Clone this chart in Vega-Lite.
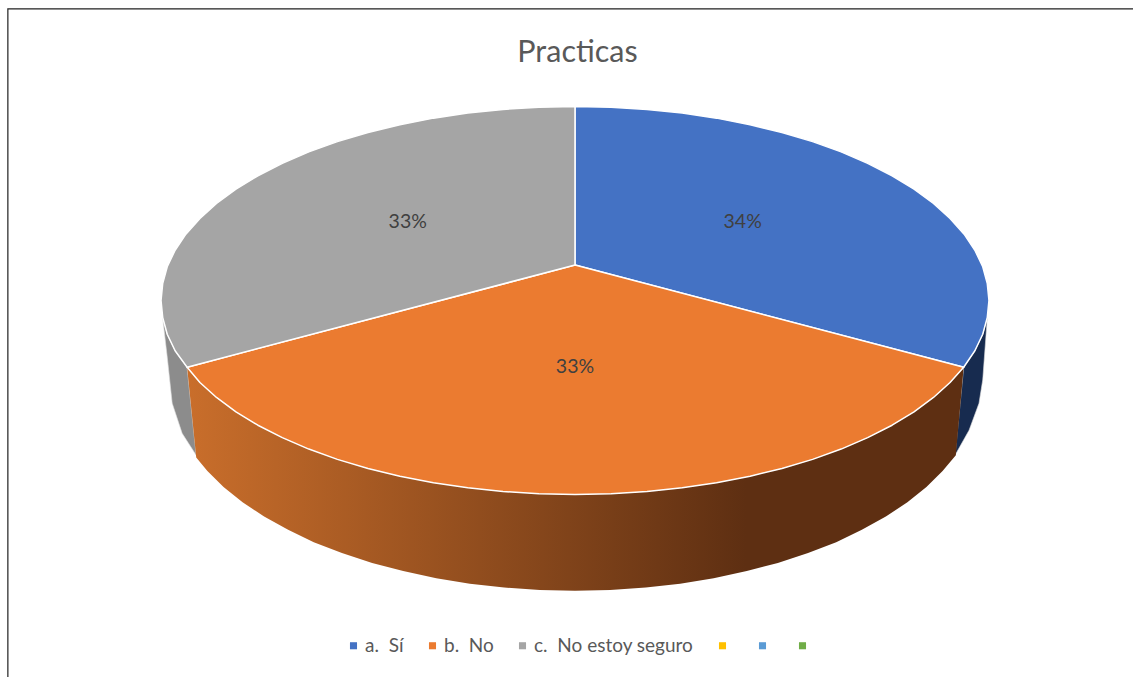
{
"$schema":"https://vega.github.io/schema/vega-lite/v6.json",
"width":1133,"height":677,"padding":0,"autosize":{"type":"none"},
"background":"white",
"view":{"stroke":null},
"title":{"text":"Practicas","anchor":"middle","frame":"group","dy":72,"dx":11,"font":"Lato","fontSize":30.5,"fontWeight":"normal","color":"#595959"},
"datasets":{
"frame":[{"i":0,"x":-137,"y":-194.1},{"i":1,"x":-137,"y":150.3},{"i":2,"x":134.8,"y":150.3}],
"labels":[{"t":"34%","x":40.5,"y":40.2},{"t":"33%","x":0,"y":-34.2},{"t":"33%","x":-40.4,"y":40.6}],
"wallLeft":[{"i":0,"x":-99.6,"y":-9},{"i":1,"x":-98.5,"y":-17.4},{"i":2,"x":-96.6,"y":-25.9},{"i":3,"x":-93.7,"y":-34.4},{"i":4,"x":-91.5,"y":-79.8},{"i":5,"x":-94.9,"y":-68.5},{"i":6,"x":-97.3,"y":-53},{"i":7,"x":-98.5,"y":-29.2},{"i":8,"x":-99.6,"y":-9}],
"wallRight":[{"i":0,"x":99.6,"y":-9},{"i":1,"x":98.5,"y":-17.4},{"i":2,"x":96.6,"y":-25.9},{"i":3,"x":93.9,"y":-34.4},{"i":4,"x":91.8,"y":-79.8},{"i":5,"x":95.2,"y":-66.9},{"i":6,"x":97.6,"y":-53},{"i":7,"x":98.5,"y":-41},{"i":8,"x":99.6,"y":-9}],
"wallFront":[
{"i":0,"x":-93.7,"y":-34.4},{"i":1,"x":-90.6,"y":-42.3},{"i":2,"x":-86.6,"y":-50},{"i":3,"x":-81.9,"y":-57.4},{"i":4,"x":-76.6,"y":-64.3},{"i":5,"x":-70.7,"y":-70.7},{"i":6,"x":-64.3,"y":-76.6},{"i":7,"x":-57.4,"y":-81.9},{"i":8,"x":-50,"y":-86.6},{"i":9,"x":-42.3,"y":-90.6},{"i":10,"x":-34.2,"y":-94},{"i":11,"x":-25.9,"y":-96.6},{"i":12,"x":-17.4,"y":-98.5},{"i":13,"x":-8.7,"y":-99.6},{"i":14,"x":0,"y":-100},{"i":15,"x":8.7,"y":-99.6},{"i":16,"x":17.4,"y":-98.5},{"i":17,"x":25.9,"y":-96.6},{"i":18,"x":34.2,"y":-94},{"i":19,"x":42.3,"y":-90.6},{"i":20,"x":50,"y":-86.6},{"i":21,"x":57.4,"y":-81.9},{"i":22,"x":64.3,"y":-76.6},{"i":23,"x":70.7,"y":-70.7},{"i":24,"x":76.6,"y":-64.3},{"i":25,"x":81.9,"y":-57.4},{"i":26,"x":86.6,"y":-50},{"i":27,"x":90.6,"y":-42.3},{"i":28,"x":93.9,"y":-34.4},
{"i":29,"x":92,"y":-79.8},{"i":30,"x":88.8,"y":-87.9},{"i":31,"x":84.9,"y":-96.1},{"i":32,"x":80.3,"y":-104},{"i":33,"x":75.1,"y":-111.4},{"i":34,"x":69.3,"y":-118.2},{"i":35,"x":63.1,"y":-124.6},{"i":36,"x":56.3,"y":-130.2},{"i":37,"x":49,"y":-135.3},{"i":38,"x":41.5,"y":-139.5},{"i":39,"x":33.5,"y":-143.2},{"i":40,"x":25.4,"y":-146},{"i":41,"x":17.1,"y":-148},{"i":42,"x":8.5,"y":-149.2},{"i":43,"x":0,"y":-149.6},{"i":44,"x":-8.5,"y":-149.2},{"i":45,"x":-17.1,"y":-148},{"i":46,"x":-25.4,"y":-146},{"i":47,"x":-33.5,"y":-143.2},{"i":48,"x":-41.5,"y":-139.5},{"i":49,"x":-49,"y":-135.3},{"i":50,"x":-56.3,"y":-130.2},{"i":51,"x":-63.1,"y":-124.6},{"i":52,"x":-69.3,"y":-118.2},{"i":53,"x":-75.1,"y":-111.4},{"i":54,"x":-80.3,"y":-104},{"i":55,"x":-84.9,"y":-96.1},{"i":56,"x":-88.8,"y":-87.9},{"i":57,"x":-91.5,"y":-80.9},{"i":58,"x":-93.7,"y":-34.4}],
"faces":[
{"s":"a.  Sí","i":0,"x":0,"y":18.3},{"s":"a.  Sí","i":1,"x":0,"y":100},{"s":"a.  Sí","i":2,"x":8.7,"y":99.6},{"s":"a.  Sí","i":3,"x":17.4,"y":98.5},{"s":"a.  Sí","i":4,"x":25.9,"y":96.6},{"s":"a.  Sí","i":5,"x":34.2,"y":94},{"s":"a.  Sí","i":6,"x":42.3,"y":90.6},{"s":"a.  Sí","i":7,"x":50,"y":86.6},{"s":"a.  Sí","i":8,"x":57.4,"y":81.9},{"s":"a.  Sí","i":9,"x":64.3,"y":76.6},{"s":"a.  Sí","i":10,"x":70.7,"y":70.7},{"s":"a.  Sí","i":11,"x":76.6,"y":64.3},{"s":"a.  Sí","i":12,"x":81.9,"y":57.4},{"s":"a.  Sí","i":13,"x":86.6,"y":50},{"s":"a.  Sí","i":14,"x":90.6,"y":42.3},{"s":"a.  Sí","i":15,"x":94,"y":34.2},{"s":"a.  Sí","i":16,"x":96.6,"y":25.9},{"s":"a.  Sí","i":17,"x":98.5,"y":17.4},{"s":"a.  Sí","i":18,"x":99.6,"y":8.7},{"s":"a.  Sí","i":19,"x":100,"y":0},{"s":"a.  Sí","i":20,"x":99.6,"y":-8.7},{"s":"a.  Sí","i":21,"x":98.5,"y":-17.4},{"s":"a.  Sí","i":22,"x":96.6,"y":-25.9},{"s":"a.  Sí","i":23,"x":93.9,"y":-34.4},{"s":"a.  Sí","i":24,"x":0,"y":18.3},
{"s":"b.  No","i":0,"x":0,"y":18.3},{"s":"b.  No","i":1,"x":93.9,"y":-34.4},{"s":"b.  No","i":2,"x":90.6,"y":-42.3},{"s":"b.  No","i":3,"x":86.6,"y":-50},{"s":"b.  No","i":4,"x":81.9,"y":-57.4},{"s":"b.  No","i":5,"x":76.6,"y":-64.3},{"s":"b.  No","i":6,"x":70.7,"y":-70.7},{"s":"b.  No","i":7,"x":64.3,"y":-76.6},{"s":"b.  No","i":8,"x":57.4,"y":-81.9},{"s":"b.  No","i":9,"x":50,"y":-86.6},{"s":"b.  No","i":10,"x":42.3,"y":-90.6},{"s":"b.  No","i":11,"x":34.2,"y":-94},{"s":"b.  No","i":12,"x":25.9,"y":-96.6},{"s":"b.  No","i":13,"x":17.4,"y":-98.5},{"s":"b.  No","i":14,"x":8.7,"y":-99.6},{"s":"b.  No","i":15,"x":0,"y":-100},{"s":"b.  No","i":16,"x":-8.7,"y":-99.6},{"s":"b.  No","i":17,"x":-17.4,"y":-98.5},{"s":"b.  No","i":18,"x":-25.9,"y":-96.6},{"s":"b.  No","i":19,"x":-34.2,"y":-94},{"s":"b.  No","i":20,"x":-42.3,"y":-90.6},{"s":"b.  No","i":21,"x":-50,"y":-86.6},{"s":"b.  No","i":22,"x":-57.4,"y":-81.9},{"s":"b.  No","i":23,"x":-64.3,"y":-76.6},{"s":"b.  No","i":24,"x":-70.7,"y":-70.7},{"s":"b.  No","i":25,"x":-76.6,"y":-64.3},{"s":"b.  No","i":26,"x":-81.9,"y":-57.4},{"s":"b.  No","i":27,"x":-86.6,"y":-50},{"s":"b.  No","i":28,"x":-90.6,"y":-42.3},{"s":"b.  No","i":29,"x":-93.7,"y":-34.4},{"s":"b.  No","i":30,"x":0,"y":18.3},
{"s":"c.  No estoy seguro","i":0,"x":0,"y":18.3},{"s":"c.  No estoy seguro","i":1,"x":-93.7,"y":-34.4},{"s":"c.  No estoy seguro","i":2,"x":-96.6,"y":-25.9},{"s":"c.  No estoy seguro","i":3,"x":-98.5,"y":-17.4},{"s":"c.  No estoy seguro","i":4,"x":-99.6,"y":-8.7},{"s":"c.  No estoy seguro","i":5,"x":-100,"y":0},{"s":"c.  No estoy seguro","i":6,"x":-99.6,"y":8.7},{"s":"c.  No estoy seguro","i":7,"x":-98.5,"y":17.4},{"s":"c.  No estoy seguro","i":8,"x":-96.6,"y":25.9},{"s":"c.  No estoy seguro","i":9,"x":-94,"y":34.2},{"s":"c.  No estoy seguro","i":10,"x":-90.6,"y":42.3},{"s":"c.  No estoy seguro","i":11,"x":-86.6,"y":50},{"s":"c.  No estoy seguro","i":12,"x":-81.9,"y":57.4},{"s":"c.  No estoy seguro","i":13,"x":-76.6,"y":64.3},{"s":"c.  No estoy seguro","i":14,"x":-70.7,"y":70.7},{"s":"c.  No estoy seguro","i":15,"x":-64.3,"y":76.6},{"s":"c.  No estoy seguro","i":16,"x":-57.4,"y":81.9},{"s":"c.  No estoy seguro","i":17,"x":-50,"y":86.6},{"s":"c.  No estoy seguro","i":18,"x":-42.3,"y":90.6},{"s":"c.  No estoy seguro","i":19,"x":-34.2,"y":94},{"s":"c.  No estoy seguro","i":20,"x":-25.9,"y":96.6},{"s":"c.  No estoy seguro","i":21,"x":-17.4,"y":98.5},{"s":"c.  No estoy seguro","i":22,"x":-8.7,"y":99.6},{"s":"c.  No estoy seguro","i":23,"x":0,"y":100},{"s":"c.  No estoy seguro","i":24,"x":0,"y":18.3}
]},
"encoding":{
"x":{"field":"x","type":"quantitative","axis":null,"scale":{"domain":[-138.9,134.8],"nice":false,"zero":false}},
"y":{"field":"y","type":"quantitative","axis":null,"scale":{"domain":[-194.1,154.9],"nice":false,"zero":false}},
"order":{"field":"i","type":"ordinal"}
},
"layer":[
{"data":{"name":"frame"},"mark":{"type":"line","stroke":"#222222","strokeWidth":1.2}},
{"data":{"name":"wallLeft"},"mark":{"type":"line","fill":"#8C8C8C","stroke":"#dddddd","strokeWidth":0.6}},
{"data":{"name":"wallRight"},"mark":{"type":"line","fill":"#172B4F","stroke":"#dddddd","strokeWidth":0.6}},
{"data":{"name":"wallFront"},"mark":{"type":"line","strokeWidth":0,"fill":{"gradient":"linear","x1":0,"x2":1,"y1":0,"y2":0,"stops":[{"offset":0,"color":"#C96E2B"},{"offset":0.72,"color":"#5E2F12"},{"offset":1,"color":"#5E2F12"}]}}},
{"data":{"name":"faces"},"mark":{"type":"line","filled":true,"stroke":"white","strokeWidth":1.5,"strokeJoin":"round"},
"encoding":{"fill":{"field":"s","type":"nominal","scale":{"domain":["a.  Sí","b.  No","c.  No estoy seguro"," ","  ","   "],"range":["#4472C4","#EB7B30","#A5A5A5","#FFC000","#5B9BD5","#70AD47"]},
"legend":{"orient":"none","legendX":344,"legendY":636,"direction":"horizontal","columns":6,"title":null,"symbolType":"square","symbolSize":50,"symbolStrokeWidth":0,"labelFont":"Lato","labelFontSize":19,"labelColor":"#595959","labelLimit":400,"columnPadding":19,"labelOffset":2,"labelExpr":"replace(datum.label,'  ','\u00a0\u00a0')"}}}},
{"data":{"name":"labels"},"mark":{"type":"text","font":"Lato","fontSize":19.5,"color":"#404040"},"encoding":{"text":{"field":"t","type":"nominal"},"order":{"value":null}}}
]
}
